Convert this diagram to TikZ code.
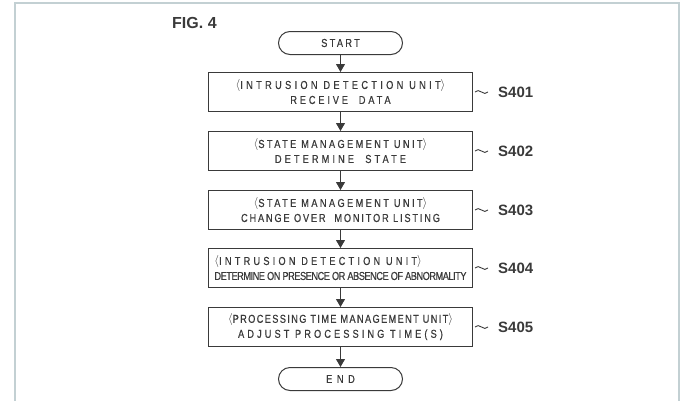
\documentclass[tikz,border=0pt]{standalone}
\usepackage{fontspec}
\setmainfont{Liberation Sans}
\newfontfamily\boxfont[FakeStretch=0.8,FakeBold=0.6]{Liberation Sans}
\usetikzlibrary{arrows.meta}
\definecolor{frame}{HTML}{C3D0D3}
\definecolor{ink}{HTML}{3A3A3A}
\newcommand{\ls}[1]{\addfontfeature{LetterSpace=#1}}
\tikzset{
  stepbox/.style={draw=ink, line width=1pt, minimum width=264pt, minimum height=39pt,
    inner sep=0pt, align=center, text=ink, font=\boxfont\fontsize{11.5}{15}\selectfont},
  term/.style={draw=ink, line width=1pt, minimum width=124pt, minimum height=23pt,
    rounded corners=11.5pt, inner sep=0pt, text=ink, font=\boxfont\fontsize{11.5}{15}\selectfont},
  arr/.style={draw=ink, line width=1pt, -{Triangle[length=8pt,width=9pt]}},
  slabel/.style={anchor=west, inner sep=0pt, text=ink, font=\bfseries\fontsize{15}{18}\selectfont},
  wave/.style={draw=ink, line width=0.9pt}
}
\begin{document}
\begin{tikzpicture}[x=1pt,y=-1pt]
\useasboundingbox (0,0) rectangle (681,400);
\draw[frame, line width=2pt] (15,402) -- (15,3) -- (679,3) -- (679,402);

\node[anchor=west, inner sep=0pt, text=ink, font=\bfseries\fontsize{16}{18}\selectfont] (fig) at (172,23) {FIG. 4};

\node[term] (start) at (340.5,43) {\ls{20}START};
\node[stepbox] (b1) at (340.5,92) {{\ls{29}$\langle$INTRUSION DETECTION UNIT$\rangle$}\\{\ls{25}RECEIVE\ \ DATA}};
\node[stepbox] (b2) at (340.5,151) {{\ls{21}$\langle$STATE MANAGEMENT UNIT$\rangle$}\\{\ls{27}DETERMINE\ \ STATE}};
\node[stepbox] (b3) at (340.5,210) {{\ls{21}$\langle$STATE MANAGEMENT UNIT$\rangle$}\\{\ls{16}CHANGE OVER\ \ MONITOR LISTING}};
\node[stepbox, align=left] (b4) at (340.5,268) {{\ls{28}$\langle$INTRUSION DETECTION UNIT$\rangle$}\\{\ls{-4}DETERMINE ON PRESENCE OR ABSENCE OF ABNORMALITY}};
\node[stepbox] (b5) at (340.5,327) {{\ls{12}$\langle$PROCESSING TIME MANAGEMENT UNIT$\rangle$}\\{\ls{27}ADJUST PROCESSING TIME(S)}};
\node[term] (end) at (340.5,379) {\ls{40}END};

\draw[arr] (start) -- (b1);
\draw[arr] (b1) -- (b2);
\draw[arr] (b2) -- (b3);
\draw[arr] (b3) -- (b4);
\draw[arr] (b4) -- (b5);
\draw[arr] (b5) -- (end);

\foreach \i/\lab in {1/S401,2/S402,3/S403,4/S404,5/S405}{
  \node[slabel] (s\i) at ([xshift=25pt]b\i.east) {\lab};
  \draw[wave] ([xshift=2pt]b\i.east) .. controls +(4,-5) and +(-4,5) .. ([xshift=-10pt]s\i.west);
}
\end{tikzpicture}
\end{document}
